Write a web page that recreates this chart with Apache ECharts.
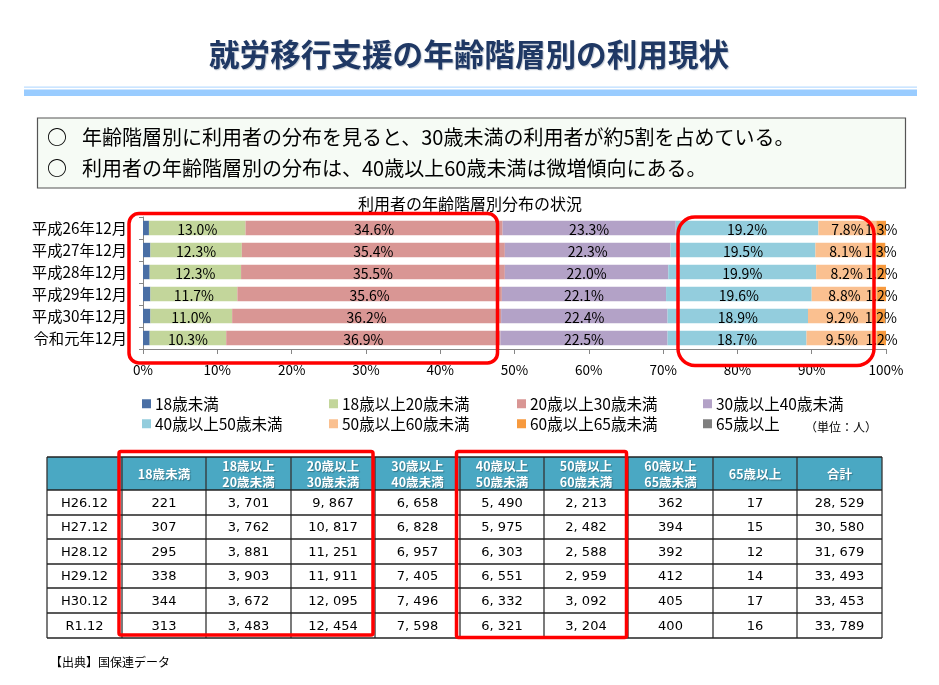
<!DOCTYPE html>
<html lang="ja">
<head>
<meta charset="utf-8">
<title>就労移行支援の年齢階層別の利用現状</title>
<style>
  html, body { margin: 0; padding: 0; background: #fff; }
  #main { width: 939px; height: 685px; }
</style>
</head>
<body>
<div id="main"></div>
<script src="https://cdn.jsdelivr.net/npm/echarts@6/dist/echarts.min.js"></script>
<script>
// グラフの値（%）
const periods = ['平成26年12月', '平成27年12月', '平成28年12月', '平成29年12月', '平成30年12月', '令和元年12月'];
const ageGroups = ['18歳未満', '18歳以上20歳未満', '20歳以上30歳未満', '30歳以上40歳未満', '40歳以上50歳未満', '50歳以上60歳未満', '60歳以上65歳未満', '65歳以上'];
const pctUnder18 = [0.8, 1.0, 0.9, 1.0, 1.0, 0.9];
const pct18to20 = [13.0, 12.3, 12.3, 11.7, 11.0, 10.3];
const pct20to30 = [34.6, 35.4, 35.5, 35.6, 36.2, 36.9];
const pct30to40 = [23.3, 22.3, 22.0, 22.1, 22.4, 22.5];
const pct40to50 = [19.2, 19.5, 19.9, 19.6, 18.9, 18.7];
const pct50to60 = [7.8, 8.1, 8.2, 8.8, 9.2, 9.5];
const pct60to65 = [1.3, 1.3, 1.2, 1.2, 1.2, 1.2];
const pctOver65 = [0.1, 0.0, 0.0, 0.0, 0.1, 0.0];
const tickValues = { min: 0, max: 100, step: 10 };

// 表の値（人）
const tableRows = ['H26.12', 'H27.12', 'H28.12', 'H29.12', 'H30.12', 'R1.12'];
const tableHeads = ['', '18歳未満', '18歳以上\n20歳未満', '20歳以上\n30歳未満', '30歳以上\n40歳未満', '40歳以上\n50歳未満', '50歳以上\n60歳未満', '60歳以上\n65歳未満', '65歳以上', '合計'];
const numUnder18 = [221, 307, 295, 338, 344, 313];
const num18to20 = [3701, 3762, 3881, 3903, 3672, 3483];
const num20to30 = [9867, 10817, 11251, 11911, 12095, 12454];
const num30to40 = [6658, 6828, 6957, 7405, 7496, 7598];
const num40to50 = [5490, 5975, 6303, 6551, 6332, 6321];
const num50to60 = [2213, 2482, 2588, 2959, 3092, 3204];
const num60to65 = [362, 394, 392, 412, 405, 400];
const numOver65 = [17, 15, 12, 14, 17, 16];
const numTotal = [28529, 30580, 31679, 33493, 33453, 33789];

const pctSeries = [pctUnder18, pct18to20, pct20to30, pct30to40, pct40to50, pct50to60, pct60to65, pctOver65];
const numColumns = [numUnder18, num18to20, num20to30, num30to40, num40to50, num50to60, num60to65, numOver65, numTotal];
const colors = ['#4A6FA5', '#C3D69B', '#D99694', '#B3A2C7', '#93CDDD', '#FAC090', '#F79A3E', '#7F7F7F'];

const JP = '"Noto Sans CJK JP", sans-serif';
const colX = [47, 122, 206, 291, 375, 460, 544, 628, 713, 797, 882];
const rowY = [457, 490, 515, 539, 564, 588, 613, 638];
const legendX = [142, 329, 517, 703];
const legendY = [396, 416];

const fmt = n => String(n).replace(/\B(?=(\d{3})+$)/g, ', ');
const text = (x, y, str, style, z) => ({
  type: 'text', x, y, z: z || 5, silent: true,
  style: Object.assign({ text: str, fill: '#000', font: '13px ' + JP, textAlign: 'center', textVerticalAlign: 'middle' }, style)
});
const rect = (x, y, w, h, style, r, z) => ({
  type: 'rect', z: z || 5, silent: true, shape: { x, y, width: w, height: h, r: r || 0 }, style
});
const line = (x1, y1, x2, y2, stroke, w) => ({
  type: 'line', z: 6, silent: true, shape: { x1, y1, x2, y2 }, style: { stroke, lineWidth: w || 1.3 }
});

// 見出しと説明文
const graphics = [
  rect(24, 86.5, 893, 1.2, { fill: '#BBDDFF' }),
  rect(24, 89.5, 893, 6.5, { fill: '#99CCFF' }),
  rect(37.5, 118, 868, 70, { fill: '#F6FBF5', stroke: '#555', lineWidth: 1.2 }),
  text(57, 137, '○', { font: 'bold 20px ' + JP }),
  text(57, 168, '○', { font: 'bold 20px ' + JP }),
  text(82, 137, '年齢階層別に利用者の分布を見ると、30歳未満の利用者が約5割を占めている。', { font: '20px ' + JP, textAlign: 'left' }),
  text(82, 168, '利用者の年齢階層別の分布は、40歳以上60歳未満は微増傾向にある。', { font: '20px ' + JP, textAlign: 'left' }),
  text(841, 427, '（単位：人）', { font: '12px ' + JP }),
  text(50, 662, '【出典】国保連データ', { font: '12px ' + JP, textAlign: 'left' })
];

// 表
tableHeads.forEach((h, i) => {
  graphics.push(rect(colX[i], rowY[0], colX[i + 1] - colX[i], rowY[1] - rowY[0], { fill: '#4AA8C3' }));
  if (h) {
    graphics.push(text((colX[i] + colX[i + 1]) / 2, (rowY[0] + rowY[1]) / 2 + 1, h, {
      fill: '#fff', font: 'bold 12.5px ' + JP, lineHeight: 16,
      textShadowColor: 'rgba(0,0,0,.3)', textShadowBlur: 1, textShadowOffsetX: 1, textShadowOffsetY: 1
    }));
  }
});
tableRows.forEach((r, i) => {
  const cy = (rowY[i + 1] + rowY[i + 2]) / 2 + 1;
  graphics.push(text((colX[0] + colX[1]) / 2, cy, r, { font: '13px "DejaVu Sans"' }));
  numColumns.forEach((col, j) => {
    graphics.push(text((colX[j + 1] + colX[j + 2]) / 2, cy, fmt(col[i]), { font: '13px "DejaVu Sans"' }));
  });
});
colX.forEach(x => graphics.push(line(x, rowY[0], x, rowY[7], '#333')));
rowY.forEach(y => graphics.push(line(colX[0], y, colX[10], y, '#222')));

// 赤枠
const redBox = { fill: 'none', stroke: '#FF0000', lineWidth: 3.5 };
graphics.push(
  rect(129, 213.5, 368.5, 149.5, redBox, 10, 20),
  rect(678, 217, 196, 148.5, redBox, 17, 20),
  rect(119, 451.5, 254, 183.5, redBox, 2, 20),
  rect(456.5, 451.5, 170, 186, redBox, 2, 20)
);

const chart = echarts.init(document.getElementById('main'));
chart.setOption({
  backgroundColor: '#fff',
  animation: false,
  textStyle: { fontFamily: JP },
  title: [
    {
      text: '就労移行支援の年齢階層別の利用現状', left: 209, top: 39, padding: 0,
      textStyle: {
        fontSize: 30.6, fontWeight: 'bold', color: '#1F3864', fontFamily: JP,
        textShadowColor: 'rgba(60,80,110,.3)', textShadowBlur: 1, textShadowOffsetX: 1, textShadowOffsetY: 1
      }
    },
    {
      text: '利用者の年齢階層別分布の状況', left: 358, top: 196, padding: 0,
      textStyle: { fontSize: 16, fontWeight: 'normal', color: '#000', fontFamily: JP }
    }
  ],
  legend: ageGroups.map((name, i) => ({
    data: [name],
    left: legendX[i % 4],
    top: legendY[Math.floor(i / 4)],
    padding: 0,
    icon: 'rect',
    itemWidth: 9,
    itemHeight: 9,
    itemGap: 0,
    selectedMode: false,
    textStyle: { fontSize: 15.5, color: '#000', fontFamily: JP, padding: [0, 0, 0, -1] }
  })),
  grid: { left: 143, right: 53, top: 217, height: 132, containLabel: false },
  xAxis: {
    type: 'value', position: 'bottom',
    min: tickValues.min, max: tickValues.max, interval: tickValues.step,
    splitLine: { show: false },
    axisLine: { show: true, lineStyle: { color: '#868686' } },
    axisTick: { show: true, length: 5, lineStyle: { color: '#868686' } },
    axisLabel: { formatter: '{value}%', fontSize: 13.5, color: '#000', margin: 14, showMaxLabel: true, showMinLabel: true }
  },
  yAxis: {
    type: 'category', data: periods, inverse: true,
    axisLine: { show: true, lineStyle: { color: '#868686' } },
    axisTick: { show: true, length: 4, lineStyle: { color: '#868686' } },
    axisLabel: { fontSize: 15.3, color: '#000', margin: 16 }
  },
  series: ageGroups.map((name, i) => ({
    name, type: 'bar', stack: 'total', data: pctSeries[i], barWidth: 14.4,
    itemStyle: { color: colors[i] },
    emphasis: { disabled: true },
    label: {
      show: i > 0 && i < 7, position: 'inside', color: '#000', fontSize: 14, offset: [0, 1.5],
      formatter: p => p.value.toFixed(1) + '%'
    }
  })),
  graphic: graphics
});
</script>
</body>
</html>
